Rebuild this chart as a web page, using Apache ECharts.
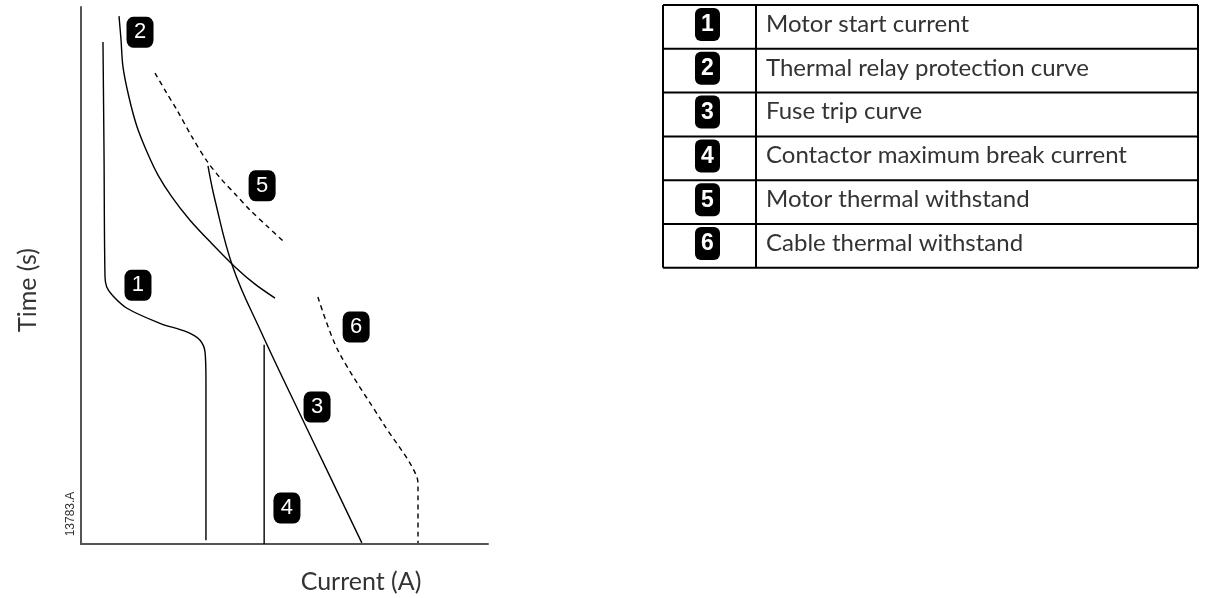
<!DOCTYPE html>
<html>
<head>
<meta charset="utf-8">
<script src="https://cdn.jsdelivr.net/npm/echarts@6/dist/echarts.min.js"></script>
<style>
  html, body { margin: 0; padding: 0; background: #fff; }
  #chart { width: 1215px; height: 598px; }
</style>
</head>
<body>
<div id="chart"></div>
<script>
// curve points, [current, time] in arbitrary units (0..100 on both axes)
const motorStart = [[5.4, 93.5], [5.65, 73.4], [5.9, 49.7], [6.3, 47.9], [7.6, 46.4], [11.3, 43.9], [19.4, 41.1], [26.0, 39.5], [29.2, 38.0], [30.5, 35.6], [30.7, 30.5], [30.7, 0.7]]
const thermalRelay = [[9.34, 98.3], [9.83, 93.9], [10.32, 88.8], [11.79, 83.2], [13.76, 77.7], [16.22, 73.0], [18.92, 68.7], [22.36, 64.6], [26.78, 60.3], [31.94, 56.1], [37.84, 51.6], [42.75, 48.4], [47.67, 45.8]]
const fuseTrip = [[31.2, 70.4], [32.9, 64.1], [37.3, 51.6], [44.0, 39.9], [54.5, 23.1], [60.4, 13.8], [69.0, 0.2]]
const contactorBreak = [[45.0, 37.1], [45.0, 0]]
const motorWithstand = [[18.18, 87.7], [20.88, 84.2], [23.59, 80.8], [27.27, 75.8], [30.96, 71.3], [34.4, 68.0], [38.08, 65.0], [41.52, 62.2], [45.7, 59.2], [50.12, 56.1]]
const cableWithstand = [[58.2, 46.0], [63.1, 36.1], [74.2, 22.5], [82.6, 12.3], [82.8, 10.6], [82.8, 0.2]]

// numbered callouts on the chart
const badgeNums = ['1', '2', '3', '4', '5', '6']
const badgePos = [[14.0, 48.2], [14.5, 95.3], [58.0, 25.5], [50.6, 6.7], [44.5, 66.7], [67.6, 40.4]]

// key table
const keyLabels = [
  'Motor start current',
  'Thermal relay protection curve',
  'Fuse trip curve',
  'Contactor maximum break current',
  'Motor thermal withstand',
  'Cable thermal withstand',
]

const chart = echarts.init(document.getElementById('chart'), null, { renderer: 'canvas' })

const textFont = 'Lato, "Open Sans", sans-serif'
const solid = { color: '#000', width: 1.4 }
const dashed = { color: '#000', width: 1.4, type: [5, 4] }

function curve(name, data, style, smooth) {
  return {
    name,
    type: 'line',
    data,
    smooth,
    showSymbol: false,
    silent: true,
    lineStyle: style,
  }
}

// table built with graphic elements
const tbl = { left: 663, right: 1198, top: 5, rowH: 43.8, divider: 756 }
const tblGraphic = []
for (let i = 0; i <= keyLabels.length; i++) {
  const y = tbl.top + i * tbl.rowH
  tblGraphic.push({
    type: 'line',
    shape: { x1: tbl.left, y1: y, x2: tbl.right, y2: y },
    style: { stroke: '#000', lineWidth: 2 },
  })
}
const tblBottom = tbl.top + keyLabels.length * tbl.rowH
;[tbl.left, tbl.divider, tbl.right].forEach((x) => {
  tblGraphic.push({
    type: 'line',
    shape: { x1: x, y1: tbl.top, x2: x, y2: tblBottom },
    style: { stroke: '#000', lineWidth: 2 },
  })
})
keyLabels.forEach((label, i) => {
  const y = tbl.top + i * tbl.rowH
  tblGraphic.push({
    type: 'rect',
    shape: { x: 695, y: y + 3, width: 25, height: 33, r: 6 },
    style: { fill: '#000' },
  })
  tblGraphic.push({
    type: 'text',
    x: 707.5, y: y + 20,
    style: {
      text: badgeNums[i], fill: '#fff', align: 'center', verticalAlign: 'middle',
      font: 'bold 23px "Liberation Sans Narrow", "Liberation Sans", Arial, sans-serif',
    },
  })
  tblGraphic.push({
    type: 'text',
    x: 766, y: y + 19,
    style: {
      text: label, fill: '#333', verticalAlign: 'middle',
      font: '24px ' + textFont,
    },
  })
})

chart.setOption({
  animation: false,
  grid: { left: 81, top: 7, width: 407, height: 537 },
  xAxis: {
    type: 'value', min: 0, max: 100,
    axisLine: { show: true, onZero: false, lineStyle: { color: '#555', width: 2 } },
    axisTick: { show: false }, axisLabel: { show: false }, splitLine: { show: false },
  },
  yAxis: {
    type: 'value', min: 0, max: 100,
    axisLine: { show: true, onZero: false, lineStyle: { color: '#555', width: 2 } },
    axisTick: { show: false }, axisLabel: { show: false }, splitLine: { show: false },
  },
  series: [
    curve('Motor start current', motorStart, solid, 0.35),
    curve('Thermal relay protection curve', thermalRelay, solid, 0.3),
    curve('Fuse trip curve', fuseTrip, solid, 0.4),
    curve('Contactor maximum break current', contactorBreak, solid, false),
    curve('Motor thermal withstand', motorWithstand, dashed, 0.3),
    curve('Cable thermal withstand', cableWithstand, dashed, 0.3),
    {
      type: 'scatter',
      silent: true,
      symbol: 'roundRect',
      symbolSize: [27, 31],
      itemStyle: { color: '#000', opacity: 1 },
      data: badgePos.map((p, i) => ({ value: p, name: badgeNums[i] })),
      label: {
        show: true, position: 'inside', formatter: '{b}',
        color: '#fff', fontSize: 22, fontFamily: '"Liberation Sans", Arial, sans-serif',
      },
    },
  ],
  graphic: [
    {
      type: 'text', x: 28, y: 290, rotation: Math.PI / 2,
      style: { text: 'Time (s)', fill: '#333', align: 'center', verticalAlign: 'middle', font: '25px ' + textFont },
    },
    {
      type: 'text', x: 361, y: 582,
      style: { text: 'Current (A)', fill: '#333', align: 'center', verticalAlign: 'middle', font: '25px ' + textFont },
    },
    {
      type: 'text', x: 71, y: 514, rotation: Math.PI / 2,
      style: { text: '13783.A', fill: '#333', align: 'center', verticalAlign: 'middle', font: '12px "Liberation Sans", Arial, sans-serif' },
    },
    ...tblGraphic,
  ],
})
</script>
</body>
</html>
